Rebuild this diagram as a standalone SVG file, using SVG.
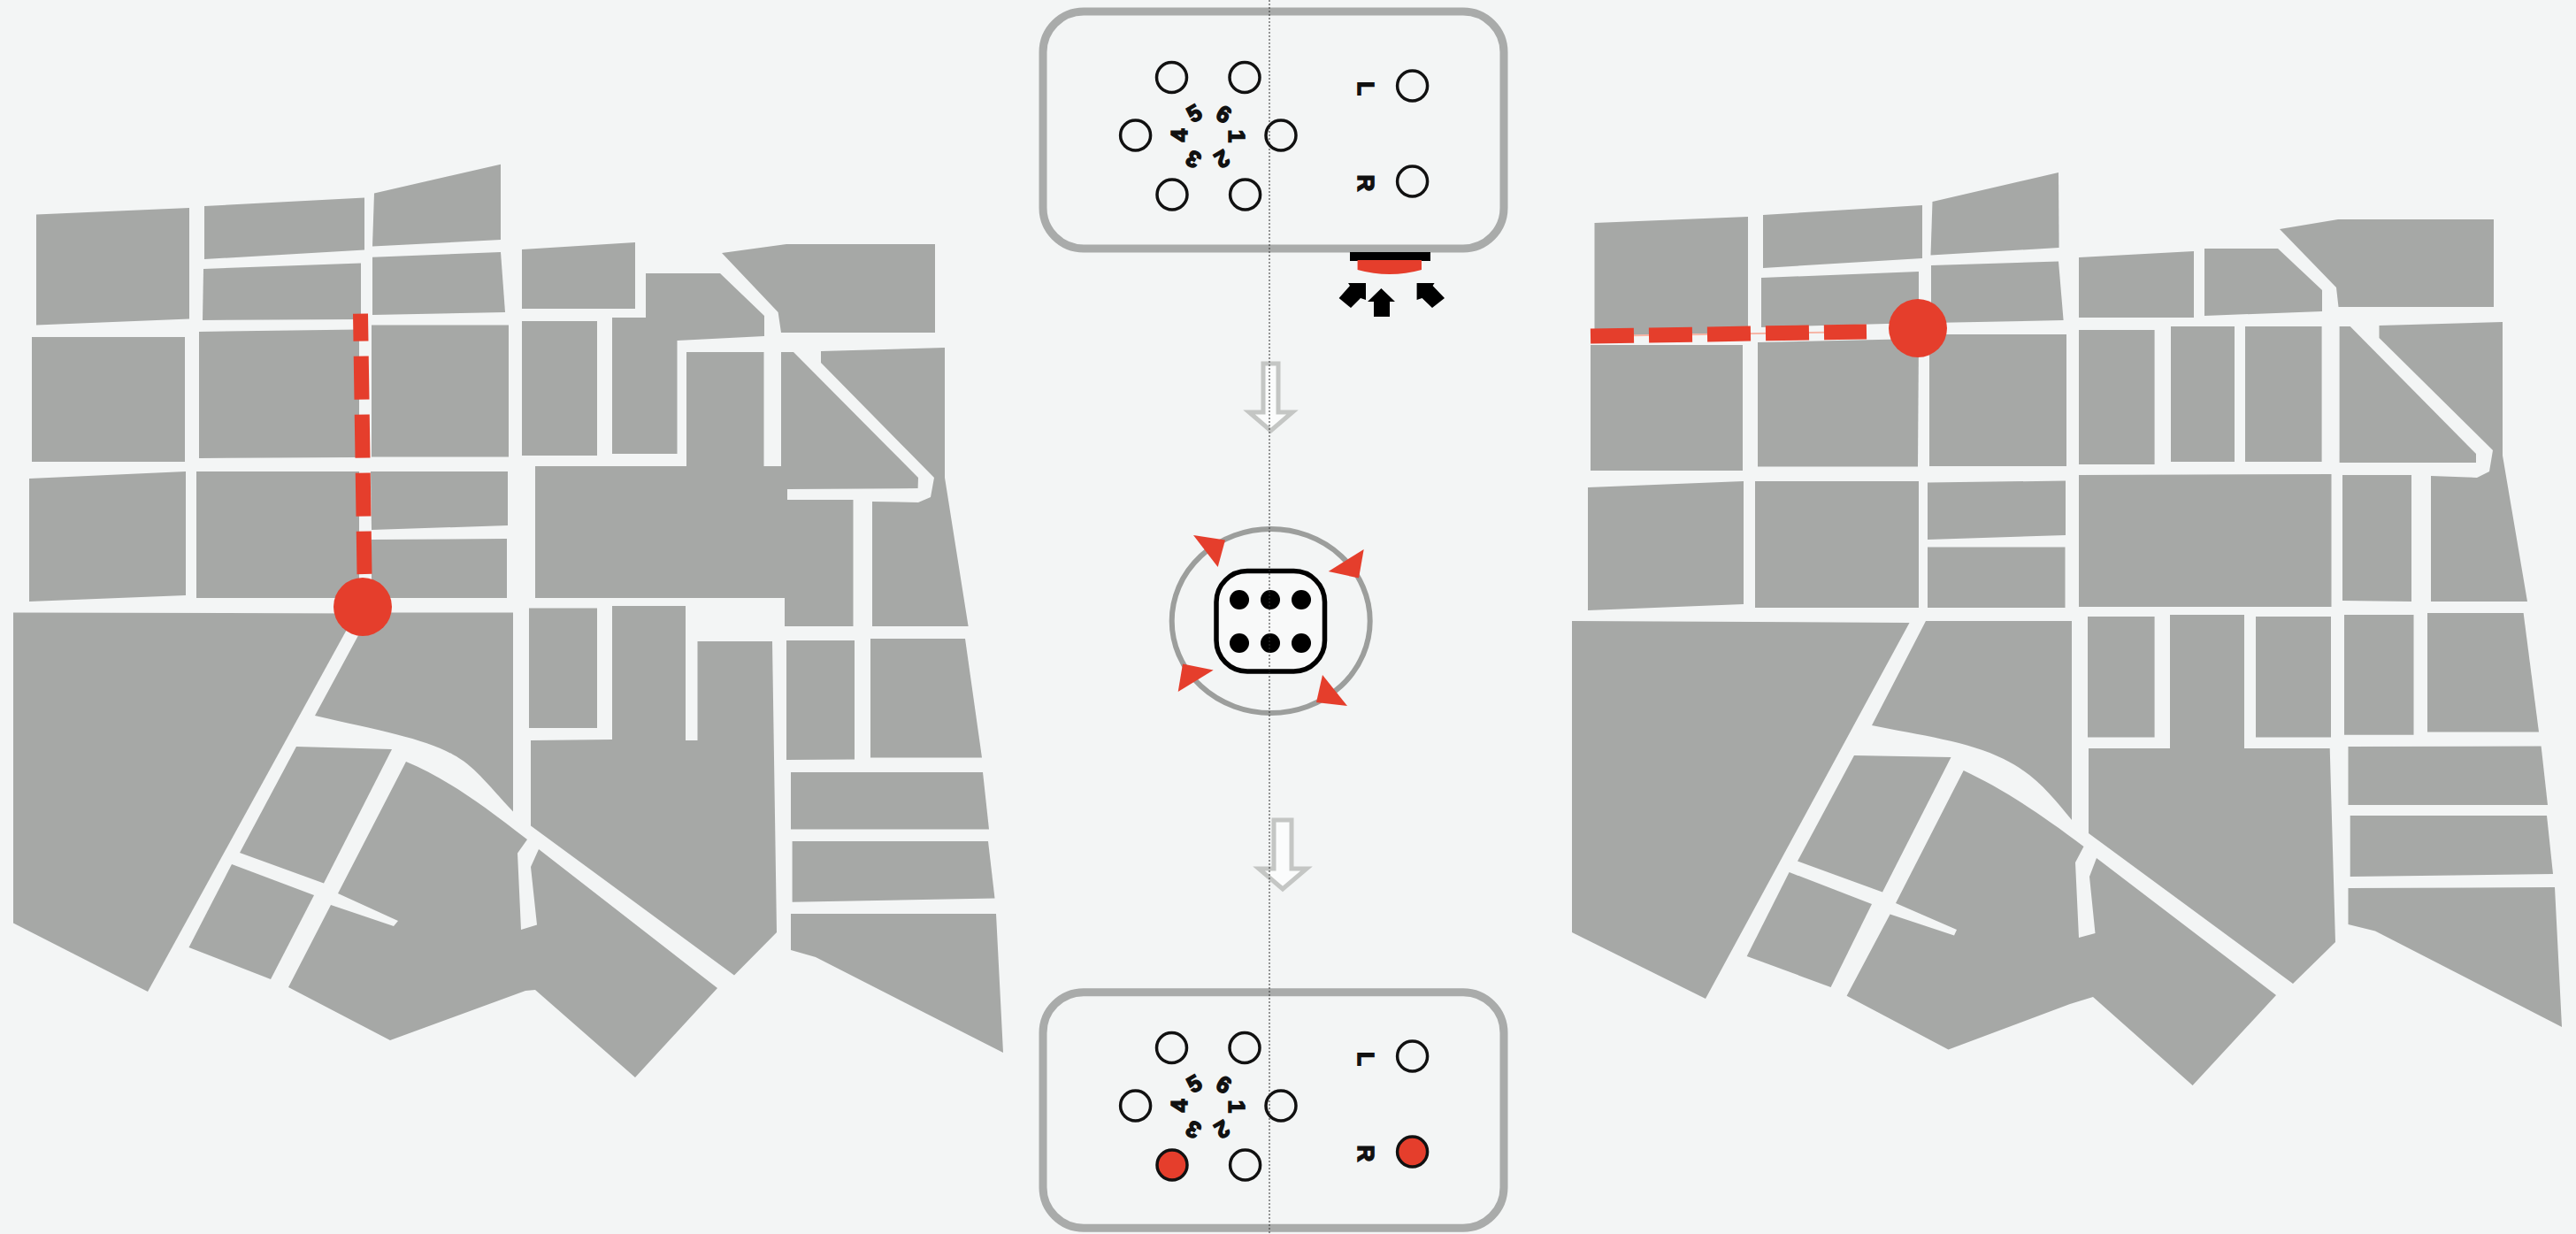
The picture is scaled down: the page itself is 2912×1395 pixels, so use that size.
<svg xmlns="http://www.w3.org/2000/svg" width="2912" height="1395" viewBox="0 0 2912 1395">
<style>
.b{fill:#a6a8a6}
.route{fill:none;stroke:#e53e2c;stroke-width:17;stroke-dasharray:49 17}
.hot{fill:#e53e2c}
.panel{fill:#f3f5f5;stroke:#a9abaa;stroke-width:9}
.led{fill:none;stroke:#111;stroke-width:3.5}
.on{fill:#e53e2c;stroke:#111;stroke-width:3.5}
.t{font-family:"Liberation Sans",Arial,sans-serif;font-weight:700;font-size:26px;fill:#111;stroke:#111;stroke-width:1.6;text-anchor:middle;dominant-baseline:central}
.hollow{fill:#fbfcfc;stroke:#c4c6c4;stroke-width:5}
.k{fill:#000}
</style>
<rect width="2912" height="1395" fill="#f3f5f5"/>
<g id="map-left">
<polygon class="b" points="41,242.5 214,235 214,360.4 41,367.5"/>
<polygon class="b" points="231,233 412,223.6 412,282.5 231,293"/>
<polygon class="b" points="423,218.6 566,185.7 566,271 421,278.6"/>
<polygon class="b" points="230,304 408,297.5 408,361 229,362"/>
<polygon class="b" points="421,290.7 566,285 571,353 421,356"/>
<polygon class="b" points="36,381 209,381 209,522 36,522"/>
<polygon class="b" points="225,375 406,372.5 406,517 225,518"/>
<polygon class="b" points="420,367.5 575,367.5 575,516.5 420,516.5"/>
<polygon class="b" points="33,541 210,533 210,673 33,680"/>
<polygon class="b" points="222,533 406,533 406,676 222,676"/>
<polygon class="b" points="419,533 574,533 574,594 420,599"/>
<polygon class="b" points="420,610 573,609 573,676 420,676"/>
<polygon class="b" points="15,692.5 402,693.5 167,1121 15,1043.6"/>
<path class="b" d="M419 692.5H580V917.5C550 885 535 865 512 853C480 835 430 826 356 809Z"/>
<polygon class="b" points="335,844 443,847 366,998.6 271,964"/>
<polygon class="b" points="262,977 355,1012 306,1107 213.5,1071"/>
<path class="b" d="M459 861C500 878 540 905 596 949L585 964.5 589 1051 607 1045.5 600 980 609 960 811 1117 718 1218 605 1119 594 1120 441 1176 326 1116 374 1023 445 1047 450 1041 382 1010Z"/>
<polygon class="b" points="600,933.5 600,837 692,836 692,685 775,685 775,837 788.5,837 788.5,725 873,725 878,1054 830,1102.4"/>
<polygon class="b" points="598,687.6 675,687.6 675,823 598,823"/>
<polygon class="b" points="889,724 966,724 966,858.6 889,859"/>
<polygon class="b" points="984,722 1091,722 1110,856.5 984,856.5"/>
<polygon class="b" points="894,873 1111,873 1118,937.6 894,937.6"/>
<polygon class="b" points="895.6,951 1117,951 1124.5,1015.5 895.6,1019.7"/>
<polygon class="b" points="894,1033 1126,1033 1134,1190 922,1082 894,1074"/>
<polygon class="b" points="590,282 718,274 718,349 590,349"/>
<polygon class="b" points="730,309 814,309 864,357 864,380 765.5,385 765.5,513 692,513 692,359 730,359"/>
<polygon class="b" points="590,363 675,363 675,515 590,515"/>
<polygon class="b" points="605,527 776,527 776,398 863.5,398 863.5,527 883,527 883,398 897,398 1038,540 1037.6,552 890,553 890,565 964.5,565 964.5,708 887,708 887,676 605,676"/>
<polygon class="b" points="816,286 889,276 1057,276 1057,376 883,376 879.6,353"/>
<polygon class="b" points="928,397 1068,393 1068,540 1094.6,708 986,708 986,567 1038,568 1052,562 1056,540 928,410"/>
</g>
<g id="map-right">
<polygon class="b" points="1802.5,252 1976,245 1976,376 1802.5,380"/>
<polygon class="b" points="1993,243 2173,232 2173,292 1993,303"/>
<polygon class="b" points="2184.5,228 2327,195 2327.6,280 2182.5,288.6"/>
<polygon class="b" points="1991,314 2169,307 2169,365 1991,370"/>
<polygon class="b" points="2183,300 2327,295.5 2332.6,362 2183,365"/>
<polygon class="b" points="1798,390 1970,390 1970,532 1798,532"/>
<polygon class="b" points="1987,387 2169,383 2168,527.6 1987,527.6"/>
<polygon class="b" points="2181,378 2336,378 2336,527 2181,527"/>
<polygon class="b" points="1795,551 1971,544 1971,683 1795,690"/>
<polygon class="b" points="1984,544 2169,544 2169,687 1984,687"/>
<polygon class="b" points="2179,545.5 2335,543.5 2335,605 2179,610"/>
<polygon class="b" points="2179,618.6 2334.5,618.6 2334.5,687 2179,687"/>
<polygon class="b" points="2350,291 2480,284 2480,359 2350,359"/>
<polygon class="b" points="2492,281 2575,281 2625,328 2625,352 2492,357"/>
<polygon class="b" points="2577,259 2643,248 2819,248 2819,347 2643.5,347 2641,325"/>
<polygon class="b" points="2350,373 2435.6,373 2435.6,525 2350,525"/>
<polygon class="b" points="2454,369 2526,369 2526,522 2454,522"/>
<polygon class="b" points="2538,369 2624.6,369 2624.6,522 2538,522"/>
<polygon class="b" points="2644.6,369 2656.7,369 2799,513 2799,523 2644.6,523"/>
<polygon class="b" points="2689.5,368 2829,364 2829,515 2857,680 2748,680 2748,538 2800,540 2814,533 2818,509 2689.5,382"/>
<polygon class="b" points="2350,537 2635.5,536 2635.5,686 2350,686"/>
<polygon class="b" points="2648,537 2726,537 2726,680 2648,679"/>
<polygon class="b" points="2360,697 2435.6,697 2435.6,833.6 2360,833.6"/>
<polygon class="b" points="2361,846 2453,846 2453,695 2537,695 2537,846 2633.7,846 2640,1065 2592,1112 2361,942"/>
<polygon class="b" points="2550,697 2635,697 2635,833.6 2550,833.6"/>
<polygon class="b" points="2650,695 2728.5,695 2728.5,830.7 2650,830.7"/>
<polygon class="b" points="2744,693 2852.6,693 2870,827.5 2744,827.5"/>
<polygon class="b" points="2654.5,844 2872.6,843.6 2880,910 2654.5,910"/>
<polygon class="b" points="2656.7,922 2879,922 2886,988 2656.7,991"/>
<polygon class="b" points="2654.5,1004 2888,1003 2896,1161 2685,1052.5 2654.5,1045"/>
<polygon class="b" points="1777,702 2158.5,704 1928,1129 1777,1054"/>
<path class="b" d="M2177 702H2342V927C2320 900 2300 875 2265 858C2225 838 2170 831 2116 820Z"/>
<polygon class="b" points="2096,854 2205.5,856 2128,1008.6 2032,973.6"/>
<polygon class="b" points="2022.6,986 2116,1022 2069.6,1116 1974.7,1081"/>
<path class="b" d="M2219.7 871C2260 890 2300 915 2355.5 957L2346 975 2350 1060 2368.5 1055 2362 991 2370 970 2573 1125 2478.6 1227 2366 1127 2340 1135 2202.5 1186.4 2087.6 1125.7 2136.6 1033.6 2209 1057.5 2212 1051 2143 1021Z"/>
</g>
<g id="connectors">
<path class="route" stroke-dashoffset="18" d="M407.5 354.6L412 649"/>
<circle id="stop-left" class="hot" cx="410" cy="686" r="33"/>
<path d="M1798 380L2110 375" fill="none" stroke="#f6b5a6" stroke-width="2"/>
<path class="route" d="M1798 380L2110 375"/>
<circle id="stop-right" class="hot" cx="2168" cy="371" r="33"/>
</g>
<g id="panel-top">
<rect class="panel" x="1179" y="13" width="521" height="268" rx="46"/>
<circle class="led" cx="1324.5" cy="87.5" r="17"/><circle class="led" cx="1407" cy="87.5" r="17"/>
<circle class="led" cx="1283.6" cy="153" r="17"/><circle class="led" cx="1448" cy="153" r="17"/>
<circle class="led" cx="1325" cy="220" r="17"/><circle class="led" cx="1407.6" cy="220" r="17"/>
<circle class="led" cx="1596.6" cy="97" r="17"/><circle class="led" cx="1596.6" cy="205" r="17"/>
<text class="t" transform="translate(1398 154) rotate(90)">1</text>
<text class="t" transform="translate(1381.5 180) rotate(150)">2</text>
<text class="t" transform="translate(1349 180) rotate(210)">3</text>
<text class="t" transform="translate(1333 153) rotate(270)">4</text>
<text class="t" transform="translate(1350 128) rotate(330)">5</text>
<text class="t" transform="translate(1383.5 129) rotate(30)">6</text>
<text class="t" transform="translate(1544 100) rotate(90)">L</text>
<text class="t" transform="translate(1544 207) rotate(90)">R</text>
</g>
<g id="sensor">
<rect class="k" x="1526" y="285" width="91" height="10"/>
<path class="hot" d="M1534.6 294H1607V305Q1571 315 1534.6 305Z"/>
<polygon class="k" points="1561.4,326 1577,341 1571,341 1571,358 1553,358 1553,341 1546,341"/>
<polygon class="k" points="1544,320 1524,320 1526,323 1513.6,337 1527,348 1538,337 1544,339"/>
<polygon class="k" points="1601.6,320 1621.6,320 1619.6,323 1633,337 1619,348 1607.6,337 1601.6,339"/>
</g>
<g id="arrow-1"><polygon class="hollow" points="1428,411 1445,411 1445,466 1461,466 1436.5,487 1412,466 1428,466"/></g>
<g id="die">
<ellipse cx="1436.7" cy="702" rx="112" ry="104" fill="#f3f5f5" stroke="#9c9e9c" stroke-width="6"/>
<rect x="1375" y="645.6" width="122.5" height="113.4" rx="35" fill="#f8f9f9" stroke="#000" stroke-width="5.5"/>
<circle class="k" cx="1401" cy="678" r="11"/><circle class="k" cx="1436" cy="678" r="11"/><circle class="k" cx="1471" cy="678" r="11"/>
<circle class="k" cx="1401" cy="727" r="11"/><circle class="k" cx="1436" cy="727" r="11"/><circle class="k" cx="1471" cy="727" r="11"/>
<polygon class="hot" points="1349,605 1385,610.6 1376.7,641"/>
<polygon class="hot" points="1541.7,621 1501.7,646 1536,653.5"/>
<polygon class="hot" points="1337,750.6 1371.7,757.5 1331.7,782"/>
<polygon class="hot" points="1495,763 1523,798 1488,794"/>
</g>
<g id="arrow-2"><polygon class="hollow" points="1440,927 1460,927 1460,982 1477,982 1450,1005 1423,982 1440,982"/></g>
<g id="panel-bottom">
<rect class="panel" x="1179" y="1121.7" width="521" height="266.5" rx="46"/>
<g transform="translate(0 1097)">
<circle class="led" cx="1324.5" cy="87.5" r="17"/><circle class="led" cx="1407" cy="87.5" r="17"/>
<circle class="led" cx="1283.6" cy="153" r="17"/><circle class="led" cx="1448" cy="153" r="17"/>
<circle class="on" cx="1325" cy="220" r="17"/><circle class="led" cx="1407.6" cy="220" r="17"/>
<circle class="led" cx="1596.6" cy="97" r="17"/><circle class="on" cx="1596.6" cy="205" r="17"/>
<text class="t" transform="translate(1398 154) rotate(90)">1</text>
<text class="t" transform="translate(1381.5 180) rotate(150)">2</text>
<text class="t" transform="translate(1349 180) rotate(210)">3</text>
<text class="t" transform="translate(1333 153) rotate(270)">4</text>
<text class="t" transform="translate(1350 128) rotate(330)">5</text>
<text class="t" transform="translate(1383.5 129) rotate(30)">6</text>
<text class="t" transform="translate(1544 100) rotate(90)">L</text>
<text class="t" transform="translate(1544 207) rotate(90)">R</text>
</g>
</g>
<path d="M1435 0V1395" fill="none" stroke="#333" stroke-width="1" stroke-dasharray="2 2"/>
</svg>
